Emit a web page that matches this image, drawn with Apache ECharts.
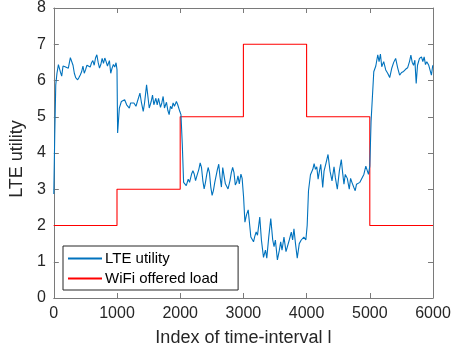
<!DOCTYPE html>
<html>
<head>
<meta charset="utf-8">
<script src="https://cdn.jsdelivr.net/npm/echarts@6/dist/echarts.min.js"></script>
<style>
  html, body { margin: 0; padding: 0; background: #fff; }
  #chart { width: 454px; height: 354px; }
</style>
</head>
<body>
<div id="chart"></div>
<script>
// LTE utility (index of time-interval, value)
const lteIndex = [
  0, 15, 31, 50, 73, 104, 125, 146, 178, 209, 230, 262, 283, 304, 325, 346, 377, 398, 419, 440,
  461, 482, 503, 524, 555, 576, 597, 618, 639, 660, 681, 702, 723, 744, 765, 786, 807, 828, 849, 880,
  901, 922, 943, 964, 985, 1000, 1010, 1037, 1069, 1100, 1121, 1153, 1174, 1195, 1216, 1247, 1268, 1300, 1331, 1363,
  1384, 1415, 1436, 1468, 1489, 1510, 1541, 1562, 1583, 1615, 1636, 1657, 1688, 1709, 1730, 1751, 1783, 1804, 1825, 1846,
  1867, 1888, 1909, 1940, 1961, 1993, 2012, 2033, 2054, 2075, 2096, 2127, 2148, 2180, 2201, 2222, 2243, 2264, 2295, 2316,
  2337, 2358, 2379, 2400, 2421, 2442, 2463, 2484, 2505, 2526, 2547, 2568, 2589, 2610, 2631, 2652, 2673, 2694, 2715, 2736,
  2757, 2788, 2809, 2830, 2851, 2872, 2893, 2914, 2935, 2961, 2980, 3003, 3024, 3050, 3076, 3100, 3118, 3160, 3180, 3202,
  3223, 3259, 3285, 3318, 3349, 3370, 3401, 3433, 3464, 3485, 3506, 3538, 3569, 3590, 3611, 3642, 3674, 3695, 3726, 3758,
  3779, 3800, 3821, 3852, 3884, 3915, 3936, 3957, 3988, 4009, 4030, 4061, 4098, 4119, 4140, 4161, 4182, 4203, 4224, 4255,
  4276, 4308, 4339, 4371, 4402, 4434, 4455, 4486, 4518, 4549, 4570, 4591, 4612, 4644, 4675, 4696, 4717, 4748, 4769, 4790,
  4811, 4843, 4874, 4906, 4937, 4958, 4979, 5000, 5020, 5063, 5095, 5126, 5147, 5168, 5189, 5220, 5252, 5283, 5315, 5346,
  5378, 5409, 5441, 5472, 5503, 5535, 5566, 5598, 5629, 5650, 5671, 5692, 5713, 5734, 5755, 5786, 5818, 5839, 5860, 5881,
  5902, 5933, 5954, 5975, 5996
]
const lteValue = [
  2.87, 4.5, 5.88, 6.2, 6.44, 6.24, 6.12, 6.4, 6.38, 6.36, 6.34, 6.63, 6.65, 6.42, 6.2, 6.08, 6.02, 6.08, 6.15, 6.24,
  6.4, 6.2, 6.3, 6.42, 6.46, 6.37, 6.49, 6.55, 6.42, 6.62, 6.71, 6.5, 6.34, 6.44, 6.61, 6.47, 6.62, 6.52, 6.4, 6.55,
  6.2, 6.34, 6.44, 6.37, 6.49, 6.3, 4.55, 5.24, 5.42, 5.38, 5.47, 5.33, 5.38, 5.24, 5.38, 5.33, 5.38, 5.29, 5.26, 5.65,
  5.42, 5.15, 5.38, 5.88, 5.56, 5.24, 5.42, 5.6, 5.33, 5.51, 5.33, 5.51, 5.26, 5.38, 5.56, 5.24, 5.4, 5.18, 5.06, 5.29,
  5.22, 5.38, 5.29, 5.42, 5.33, 5.15, 5.06, 4.24, 3.19, 3.24, 3.1, 3.28, 3.19, 3.42, 3.51, 3.42, 3.24, 3.37, 3.55, 3.73,
  3.6, 3.24, 3.01, 3.19, 3.42, 3.6, 3.46, 3.06, 2.83, 2.97, 3.19, 3.37, 3.55, 3.69, 3.33, 3.06, 3.6, 3.37, 3.15, 3.12,
  3.01, 3.24, 3.46, 3.6, 3.46, 3.12, 3.19, 3.37, 3.15, 3.42, 3.3, 2.78, 2.09, 2.3, 2.43, 2.0, 1.68, 1.55, 1.7, 1.82,
  1.73, 2.23, 1.6, 1.12, 1.32, 1.1, 1.68, 2.19, 1.6, 1.42, 1.6, 1.05, 1.32, 1.55, 1.32, 1.68, 1.28, 1.24, 1.6, 1.82,
  1.6, 1.91, 1.55, 1.1, 1.5, 1.6, 1.55, 1.68, 1.6, 2.0, 2.96, 3.4, 3.55, 3.71, 3.55, 3.62, 3.28, 3.5, 3.69, 3.05,
  3.5, 3.73, 3.96, 3.5, 3.23, 3.62, 3.32, 3.0, 3.5, 3.82, 3.46, 3.14, 3.41, 3.3, 3.0, 3.3, 3.19, 3.05, 2.96, 3.14,
  3.1, 3.19, 3.23, 3.41, 3.64, 3.69, 3.41, 3.64, 4.87, 6.24, 6.4, 6.71, 6.52, 6.73, 6.38, 6.52, 6.29, 6.2, 6.08, 6.33,
  6.5, 6.61, 6.35, 6.15, 6.22, 6.25, 6.31, 6.35, 6.53, 6.7, 6.5, 6.42, 6.56, 5.92, 6.42, 6.61, 6.65, 6.52, 6.65, 6.44,
  6.52, 6.42, 6.46, 6.15, 6.42
]

// WiFi offered load: level held from each start index
const loadIndex = [0, 1000, 2000, 3000, 4000, 5000, 6000]
const loadValue = [2, 3, 5, 7, 5, 2, 2]

const xTicks = [0, 1000, 2000, 3000, 4000, 5000, 6000]
const yTicks = [0, 1, 2, 3, 4, 5, 6, 7, 8]

const font = '"Liberation Sans", Arial, Helvetica, sans-serif'
const axisColor = '#7a7a7a'
const textColor = '#262626'

const chart = echarts.init(document.getElementById('chart'), null, { renderer: 'canvas' })

const frameAxis = {
  axisLine: { show: true, onZero: false, lineStyle: { color: axisColor, width: 1 } },
  axisTick: { show: true, inside: true, length: 5, lineStyle: { color: axisColor, width: 1 } },
  splitLine: { show: false },
}

chart.setOption({
  animation: false,
  backgroundColor: '#fff',
  grid: { left: 51, right: 21, top: 6, bottom: 56, containLabel: false },
  legend: {
    left: 63,
    top: 246,
    orient: 'vertical',
    itemWidth: 34,
    itemHeight: 14,
    itemGap: 5,
    padding: [5, 20, 4, 4],
    borderColor: '#262626',
    borderWidth: 1,
    backgroundColor: '#fff',
    itemStyle: { opacity: 0 },
    textStyle: { fontFamily: font, fontSize: 15, color: '#000', padding: [0, 0, 0, -2] },
    data: ['LTE utility', 'WiFi offered load'],
  },
  xAxis: [
    {
      type: 'value',
      min: xTicks[0],
      max: xTicks[xTicks.length - 1],
      interval: 1000,
      name: 'Index of time-interval l',
      nameLocation: 'middle',
      nameGap: 31,
      nameTextStyle: { fontFamily: font, fontSize: 18, color: textColor },
      axisLabel: {
        fontFamily: font, fontSize: 16, color: textColor, margin: 8,
        formatter: (v) => String(v),
      },
      ...frameAxis,
    },
    {
      type: 'value',
      position: 'top',
      min: xTicks[0],
      max: xTicks[xTicks.length - 1],
      interval: 1000,
      axisLabel: { show: false },
      ...frameAxis,
    },
  ],
  yAxis: [
    {
      type: 'value',
      min: yTicks[0],
      max: yTicks[yTicks.length - 1],
      interval: 1,
      name: 'LTE utility',
      nameLocation: 'middle',
      nameGap: 22,
      nameTextStyle: { fontFamily: font, fontSize: 18, color: textColor, padding: [0, 12, 0, 0] },
      axisLabel: { fontFamily: font, fontSize: 16, color: textColor, margin: 8 },
      ...frameAxis,
    },
    {
      type: 'value',
      position: 'right',
      min: yTicks[0],
      max: yTicks[yTicks.length - 1],
      interval: 1,
      axisLabel: { show: false },
      ...frameAxis,
    },
  ],
  series: [
    {
      name: 'LTE utility',
      type: 'line',
      symbol: 'none',
      smooth: false,
      color: '#0072BD',
      lineStyle: { width: 1.1, color: '#0072BD' },
      data: lteIndex.map((t, i) => [t, lteValue[i]]),
      z: 3,
    },
    {
      name: 'WiFi offered load',
      type: 'line',
      symbol: 'none',
      step: 'end',
      color: '#FF0000',
      lineStyle: { width: 1.1, color: '#FF0000' },
      data: loadIndex.map((t, i) => [t, loadValue[i]]),
      z: 2,
    },
  ],
})
</script>
</body>
</html>
